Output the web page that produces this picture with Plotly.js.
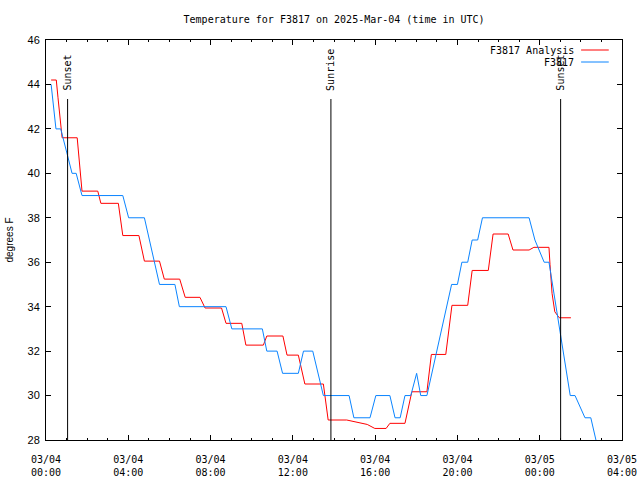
<!DOCTYPE html>
<html>
<head>
<meta charset="utf-8">
<script src="https://cdn.plot.ly/plotly-3.0.1.min.js"></script>
<style>html,body{margin:0;padding:0;background:#fff}#chart{width:640px;height:480px}</style>
</head>
<body>
<div id="chart"></div>
<script>
// Analysis series (F3817 Analysis)
const analysisTimes = [
  '2025-03-04 00:15','2025-03-04 00:30','2025-03-04 00:35','2025-03-04 00:38','2025-03-04 00:44','2025-03-04 00:47',
  '2025-03-04 01:31','2025-03-04 01:45','2025-03-04 02:31','2025-03-04 02:40','2025-03-04 03:31','2025-03-04 03:44',
  '2025-03-04 04:31','2025-03-04 04:47','2025-03-04 05:31','2025-03-04 05:45','2025-03-04 06:30','2025-03-04 06:46',
  '2025-03-04 07:29','2025-03-04 07:44','2025-03-04 08:32','2025-03-04 08:45','2025-03-04 09:31','2025-03-04 09:43',
  '2025-03-04 10:34','2025-03-04 10:44','2025-03-04 11:31','2025-03-04 11:43','2025-03-04 12:16','2025-03-04 12:35',
  '2025-03-04 13:29','2025-03-04 13:43','2025-03-04 14:37','2025-03-04 15:16','2025-03-04 15:37','2025-03-04 15:59',
  '2025-03-04 16:32','2025-03-04 16:43','2025-03-04 17:27','2025-03-04 17:47','2025-03-04 18:31','2025-03-04 18:44',
  '2025-03-04 19:26','2025-03-04 19:44','2025-03-04 20:30','2025-03-04 20:43','2025-03-04 21:30','2025-03-04 21:44',
  '2025-03-04 22:28','2025-03-04 22:42','2025-03-04 23:29','2025-03-04 23:43','2025-03-05 00:27','2025-03-05 00:30',
  '2025-03-05 00:36','2025-03-05 00:44','2025-03-05 00:57','2025-03-05 01:31'
];
const analysisTemps = [
  44.2,44.2,43.4,42.9,41.95,41.6,
  41.6,39.2,39.2,38.65,38.65,37.2,
  37.2,36.05,36.05,35.24,35.24,34.42,
  34.42,33.94,33.94,33.25,33.25,32.27,
  32.27,32.68,32.68,31.82,31.82,30.52,
  30.52,28.9,28.9,28.78,28.7,28.52,
  28.52,28.75,28.75,30.17,30.17,31.85,
  31.85,34.06,34.06,35.63,35.63,37.27,
  37.27,36.55,36.55,36.67,36.67,35.9,
  34.6,33.77,33.5,33.5
];

// Observed series (F3817)
const stationTimes = [
  '2025-03-04 00:15','2025-03-04 00:29','2025-03-04 00:43','2025-03-04 01:16','2025-03-04 01:28','2025-03-04 01:45',
  '2025-03-04 03:44','2025-03-04 04:01','2025-03-04 04:47','2025-03-04 05:31','2025-03-04 06:16','2025-03-04 06:29',
  '2025-03-04 08:45','2025-03-04 09:02','2025-03-04 10:31','2025-03-04 10:44','2025-03-04 11:14','2025-03-04 11:30',
  '2025-03-04 12:16','2025-03-04 12:31','2025-03-04 12:58','2025-03-04 13:29','2025-03-04 14:44','2025-03-04 14:58',
  '2025-03-04 15:45','2025-03-04 16:02','2025-03-04 16:43','2025-03-04 16:58','2025-03-04 17:13','2025-03-04 17:27',
  '2025-03-04 17:44','2025-03-04 18:01','2025-03-04 18:13','2025-03-04 18:31','2025-03-04 19:43','2025-03-04 20:00',
  '2025-03-04 20:13','2025-03-04 20:30','2025-03-04 20:43','2025-03-04 20:59','2025-03-04 21:13','2025-03-04 23:29',
  '2025-03-04 23:46','2025-03-05 00:13','2025-03-05 00:27','2025-03-05 00:59','2025-03-05 01:29','2025-03-05 01:43',
  '2025-03-05 02:12','2025-03-05 02:29','2025-03-05 02:44'
];
const stationTemps = [
  44,42,42,40,40,39,
  39,38,38,35,35,34,
  34,33,33,32,32,31,
  31,32,32,30,30,29,
  29,30,30,29,29,30,
  30,31,30,30,35,35,
  36,36,37,37,38,38,
  37,36,36,33,30,30,
  29,29,28
];

// Sun events
const sunTimes = ['2025-03-04 01:03','2025-03-04 13:51','2025-03-05 01:01'];
const sunLabels = ['Sunset','Sunrise','Sunset'];

const seriesNames = ['F3817 Analysis','F3817'];
const seriesColors = ['#ff0000','#0a84ff'];

const mono = 'DejaVu Sans Mono, monospace';
const sans = 'Liberation Sans, Arial, sans-serif';

const traces = [
  {x: analysisTimes, y: analysisTemps, type: 'scatter', mode: 'lines', name: seriesNames[0],
   line: {color: seriesColors[0], width: 1}, showlegend: false},
  {x: stationTimes, y: stationTemps, type: 'scatter', mode: 'lines', name: seriesNames[1],
   line: {color: seriesColors[1], width: 1}, showlegend: false}
];

const shapes = [];
const annotations = [];
sunTimes.forEach((t, i) => {
  shapes.push({type: 'line', xref: 'x', yref: 'paper', x0: t, x1: t, y0: 0, y1: 0.8525,
               line: {color: '#000', width: 1}});
  annotations.push({xref: 'x', yref: 'paper', x: t, y: 0.8675, text: sunLabels[i], showarrow: false,
                    textangle: -90, xanchor: 'center', yanchor: 'bottom',
                    font: {family: mono, size: 10, color: '#000'}});
});

// custom legend (gnuplot style: text right-aligned, sample line to the right)
const legRows = [0.975, 0.945];
seriesNames.forEach((n, i) => {
  annotations.push({xref: 'paper', yref: 'paper', x: 0.921, y: legRows[i], text: n, showarrow: false,
                    xanchor: 'right', yanchor: 'middle', font: {family: mono, size: 10, color: '#000'}});
  shapes.push({type: 'line', xref: 'paper', yref: 'paper', x0: 0.929, x1: 0.977, y0: legRows[i], y1: legRows[i],
               line: {color: seriesColors[i], width: 1}});
});

const layout = {
  width: 640, height: 480,
  margin: {l: 46, r: 18, t: 40, b: 40},
  paper_bgcolor: '#fff', plot_bgcolor: '#fff',
  showlegend: false,
  title: {text: 'Temperature for F3817 on 2025-Mar-04 (time in UTC)', font: {family: mono, size: 10, color: '#000'},
          x: 0.522, xanchor: 'center', y: 0.96, yanchor: 'middle', yref: 'container'},
  xaxis: {
    type: 'date', range: ['2025-03-04 00:00', '2025-03-05 04:00'],
    tick0: '2025-03-04 00:00', dtick: 14400000, tickformat: '%m/%d<br>%H:%M',
    ticks: 'inside', ticklen: 5, tickcolor: '#000', tickwidth: 1,
    minor: {dtick: 3600000, ticks: 'inside', ticklen: 2, tickcolor: '#000'},
    showline: true, linecolor: '#000', linewidth: 1, mirror: 'ticks',
    showgrid: false, zeroline: false, ticklabelstandoff: 10,
    tickfont: {family: mono, size: 10, color: '#000'}
  },
  yaxis: {
    range: [28, 46], dtick: 2, tick0: 28,
    ticks: 'inside', ticklen: 5, tickcolor: '#000', tickwidth: 1,
    showline: true, linecolor: '#000', linewidth: 1, mirror: 'ticks',
    showgrid: false, zeroline: false, ticklabelstandoff: 3,
    tickfont: {family: sans, size: 11, color: '#000'},
    title: {text: 'degrees F', font: {family: sans, size: 10, color: '#000'}, standoff: 12}
  },
  shapes: shapes,
  annotations: annotations
};

Plotly.newPlot('chart', traces, layout, {displayModeBar: false, staticPlot: true});
</script>
</body>
</html>
